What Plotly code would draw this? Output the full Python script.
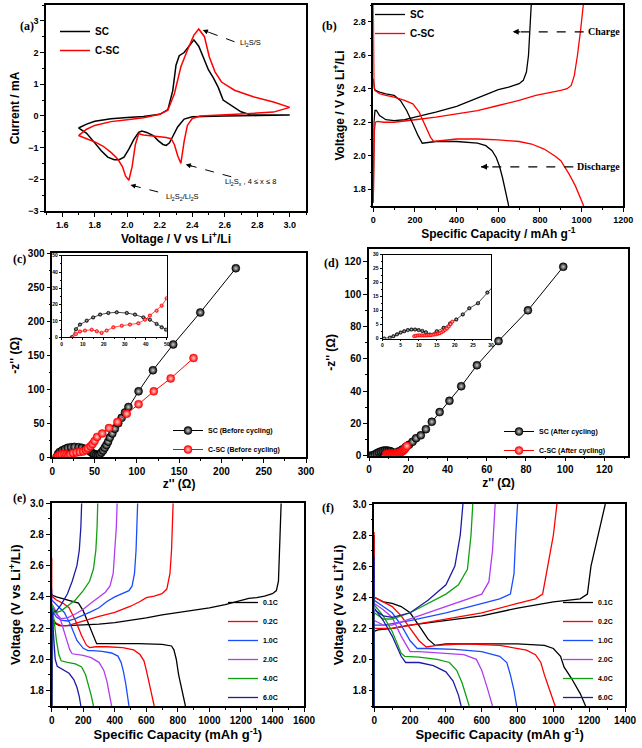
import plotly.graph_objects as go

W, H = 642, 748
SANS = "Liberation Sans"
SERIF = "Liberation Serif"

# ---- (a) cyclic voltammetry ----
cv_sc_v = [1.70, 1.75, 1.80, 1.90, 2.00, 2.10, 2.20, 2.25, 2.28, 2.30, 2.32, 2.35, 2.38, 2.41, 2.44, 2.47,
           2.50, 2.53, 2.56, 2.59, 2.64, 2.70, 2.76, 2.90, 3.00,
           3.00, 2.80, 2.60, 2.50, 2.40, 2.35, 2.31, 2.28, 2.26, 2.24, 2.22, 2.19, 2.16, 2.12, 2.09, 2.07,
           2.04, 2.01, 1.98, 1.95, 1.92, 1.88, 1.84, 1.80, 1.75, 1.70]
cv_sc_i = [-0.38, -0.26, -0.17, -0.09, -0.05, -0.02, 0.05, 0.2, 0.8, 1.6, 1.9, 2.0, 2.2, 2.4, 2.2, 1.8,
           1.45, 1.2, 0.9, 0.5, 0.34, 0.13, 0.03, 0.03, 0.03,
           0.02, 0.01, 0.0, -0.01, -0.03, -0.1, -0.35, -0.65, -0.85, -0.93, -0.9, -0.78, -0.62, -0.52, -0.48, -0.52,
           -0.75, -1.05, -1.3, -1.38, -1.38, -1.3, -1.1, -0.85, -0.55, -0.38]
cv_csc_v = [1.70, 1.75, 1.80, 1.90, 2.00, 2.10, 2.20, 2.25, 2.29, 2.33, 2.37, 2.41, 2.44, 2.475, 2.505, 2.54,
            2.58, 2.66, 2.78, 2.90, 3.00,
            3.00, 2.90, 2.80, 2.70, 2.60, 2.50, 2.45, 2.40, 2.37, 2.35, 2.33, 2.31, 2.29, 2.27, 2.24, 2.20,
            2.15, 2.10, 2.07, 2.05, 2.03, 2.01, 1.99, 1.97, 1.94, 1.90, 1.85, 1.80, 1.75, 1.70]
cv_csc_i = [-0.62, -0.42, -0.30, -0.18, -0.12, -0.06, 0.05, 0.18, 0.70, 1.55, 2.07, 2.55, 2.74, 2.5, 1.86, 1.39,
            1.07, 0.81, 0.6, 0.44, 0.27,
            0.27, 0.12, 0.09, 0.07, 0.05, 0.02, 0.0, -0.08, -0.3, -0.8, -1.5, -1.25, -0.9, -0.72, -0.68, -0.66,
            -0.64, -0.6, -0.56, -0.9, -1.6, -2.03, -1.9, -1.6, -1.35, -1.15, -0.95, -0.82, -0.72, -0.62]

# ---- (b) first charge / discharge ----
b_sc_dis_cap = [0, 2, 5, 10, 30, 60, 100, 130, 160, 190, 215, 235, 260, 300, 400, 500, 540, 570, 590, 605, 620, 635, 650]
b_sc_dis_v = [2.46, 2.43, 2.40, 2.39, 2.38, 2.37, 2.36, 2.33, 2.27, 2.19, 2.12, 2.075, 2.08, 2.085, 2.085, 2.075,
              2.06, 2.03, 1.99, 1.94, 1.87, 1.79, 1.70]
b_sc_ch_cap = [0, 3, 8, 15, 30, 60, 100, 150, 200, 300, 400, 500, 550, 600, 650, 700, 720, 735, 745, 752, 758]
b_sc_ch_v = [1.72, 2.2, 2.27, 2.27, 2.24, 2.215, 2.21, 2.215, 2.23, 2.26, 2.295, 2.345, 2.37, 2.395, 2.41, 2.43,
             2.45, 2.5, 2.6, 2.75, 2.9]
b_csc_dis_cap = [0, 0, 3, 8, 30, 60, 100, 150, 190, 220, 250, 275, 290, 320, 400, 500, 600, 700, 760, 820, 870,
                 900, 920, 940, 970, 1010]
b_csc_dis_v = [2.9, 2.6, 2.42, 2.39, 2.37, 2.36, 2.35, 2.33, 2.31, 2.26, 2.18, 2.11, 2.085, 2.09, 2.1, 2.1, 2.095,
               2.085, 2.07, 2.04, 2.0, 1.97, 1.93, 1.89, 1.82, 1.70]
b_csc_ch_cap = [0, 5, 10, 20, 50, 100, 200, 300, 400, 500, 600, 700, 780, 850, 900, 930, 950, 965, 980, 995, 1008]
b_csc_ch_v = [1.72, 2.15, 2.2, 2.205, 2.2, 2.2, 2.215, 2.23, 2.25, 2.27, 2.3, 2.33, 2.36, 2.375, 2.39, 2.40, 2.42,
              2.48, 2.6, 2.75, 2.9]

# ---- (c) EIS before cycling ----
c_sc_re = [4.8, 6.8, 8.7, 11.9, 15, 18.3, 22.2, 26.2, 31, 34.9, 38.9, 42, 45.2, 47.6, 49.7, 52, 54, 56, 58, 60,
           62, 64, 66, 68, 71, 74, 78, 82, 86, 90, 102, 119, 143, 175, 217]
c_sc_im = [0, 5, 7.8, 10.2, 12.2, 13.9, 14.9, 15.3, 14.9, 13.9, 12.2, 10.8, 8.2, 6.1, 4.7, 3.8, 3.5, 4.5, 7, 10,
           14, 18, 23, 29, 35, 42, 50, 58, 66, 74, 97, 128, 166, 213, 278]
c_csc_re = [5.2, 6.8, 8.7, 11.1, 14.3, 16.7, 19, 21.4, 24.6, 28.6, 32.5, 36.5, 39.7, 42, 45.2, 47.6, 50, 53, 59,
            67, 77, 88, 102, 120, 140, 167]
c_csc_im = [0, 2, 3.5, 4.1, 4.7, 3.7, 2.7, 4.1, 6.1, 7.1, 7.8, 8.6, 10.8, 13.3, 16.3, 19.4, 23.9, 30, 35, 43,
            52, 64, 78, 97, 116, 146]

# ---- (d) EIS after cycling ----
d_sc_re = [0.5, 2, 3, 4, 5, 6, 7, 8, 9, 10, 11, 12, 13.1, 15, 16.9, 18.7, 20.4, 22.2, 24, 26.4, 29, 32, 36, 41,
           47, 55, 66, 81, 99]
d_sc_im = [0, 0.3, 0.8, 1.5, 2.1, 2.6, 3, 3.2, 3.2, 3, 2.7, 2.2, 1.4, 2.6, 3.8, 5.4, 6.8, 8.6, 10.8, 12.6, 16.4,
           21, 27, 34, 43, 56, 71, 90, 117]
d_csc_re = [8.8, 9.3, 9.8, 10.3, 10.8, 11.3, 11.8, 12.3, 12.8, 13.3, 13.8, 14.3, 14.8, 15.3, 15.8, 16.3, 16.8,
            17.3, 17.8, 18.3, 18.8, 19.3]
d_csc_im = [0.8, 1.0, 1.1, 1.1, 1.1, 1.1, 1.1, 1.1, 1.2, 1.2, 1.3, 1.4, 1.5, 1.7, 1.9, 2.2, 2.6, 3.1, 3.6, 4.3,
            5.1, 6.0]

# ---- (e) rate capability, SC ----
rates = ["0.1C", "0.2C", "1.0C", "2.0C", "4.0C", "6.0C"]
rate_colors = ["#000000", "#ff0000", "#1a4cff", "#b23cf0", "#10a010", "#1c1ca8"]

e_dis_cap = [
    [0, 5, 30, 80, 130, 170, 200, 230, 260, 285, 310, 400, 550, 700, 760, 775, 790, 805, 820, 835, 848],
    [0, 0, 5, 30, 70, 110, 150, 190, 220, 240, 280, 350, 450, 520, 560, 585, 600, 615, 630, 650],
    [0, 0, 10, 40, 80, 120, 160, 200, 230, 260, 320, 380, 420, 440, 455, 470, 480, 490],
    [0, 0, 10, 30, 60, 90, 115, 130, 160, 200, 250, 300, 330, 350, 365, 380],
    [0, 5, 15, 30, 45, 60, 75, 100, 150, 190, 215, 235, 250, 265],
    [0, 5, 12, 22, 35, 50, 80, 110, 140, 160, 175, 185],
]
e_dis_v = [
    [2.42, 2.41, 2.40, 2.385, 2.37, 2.36, 2.31, 2.24, 2.16, 2.1, 2.1, 2.1, 2.1, 2.095, 2.085, 2.06, 2.0, 1.9,
     1.83, 1.77, 1.7],
    [2.65, 2.42, 2.4, 2.38, 2.36, 2.33, 2.25, 2.15, 2.09, 2.075, 2.08, 2.08, 2.075, 2.06, 2.03, 1.99, 1.93, 1.86,
     1.79, 1.7],
    [2.45, 2.38, 2.37, 2.34, 2.3, 2.22, 2.12, 2.07, 2.055, 2.055, 2.05, 2.04, 2.02, 1.98, 1.92, 1.84, 1.77, 1.7],
    [2.4, 2.35, 2.34, 2.3, 2.24, 2.14, 2.06, 2.035, 2.03, 2.025, 2.01, 1.98, 1.93, 1.86, 1.78, 1.7],
    [2.36, 2.33, 2.25, 2.12, 2.03, 1.99, 1.985, 1.98, 1.97, 1.95, 1.9, 1.83, 1.77, 1.7],
    [2.33, 2.25, 2.12, 2.0, 1.955, 1.945, 1.93, 1.91, 1.87, 1.82, 1.76, 1.7],
]
e_ch_cap = [
    [0, 3, 8, 20, 50, 100, 200, 300, 400, 500, 600, 700, 800, 900, 1000, 1100, 1200, 1250, 1300, 1350, 1400,
     1425, 1438, 1445, 1450, 1455],
    [0, 3, 10, 30, 60, 100, 150, 200, 300, 400, 500, 560, 600, 650, 700, 730, 750, 760, 765, 770],
    [0, 3, 10, 30, 60, 100, 150, 200, 250, 300, 350, 400, 450, 490, 510, 525, 535, 540, 545],
    [0, 3, 10, 30, 60, 100, 150, 200, 250, 300, 340, 370, 390, 400, 410, 415],
    [0, 3, 10, 30, 60, 100, 150, 200, 240, 265, 280, 288, 292],
    [0, 3, 10, 30, 60, 100, 130, 160, 175, 185, 190],
]
e_ch_v = [
    [1.7, 2.2, 2.26, 2.23, 2.215, 2.215, 2.22, 2.225, 2.235, 2.25, 2.265, 2.285, 2.3, 2.315, 2.33, 2.35, 2.375,
     2.39, 2.395, 2.405, 2.42, 2.44, 2.5, 2.7, 2.85, 3.0],
    [1.7, 2.2, 2.25, 2.23, 2.215, 2.215, 2.23, 2.245, 2.275, 2.3, 2.34, 2.37, 2.395, 2.405, 2.42, 2.45, 2.55,
     2.7, 2.85, 3.0],
    [1.7, 2.25, 2.3, 2.27, 2.25, 2.245, 2.26, 2.28, 2.305, 2.33, 2.37, 2.4, 2.42, 2.44, 2.47, 2.55, 2.7, 2.85, 3.0],
    [1.7, 2.3, 2.33, 2.29, 2.26, 2.265, 2.29, 2.32, 2.36, 2.4, 2.43, 2.47, 2.55, 2.7, 2.85, 3.0],
    [1.7, 2.3, 2.32, 2.3, 2.31, 2.34, 2.38, 2.44, 2.5, 2.58, 2.7, 2.85, 3.0],
    [1.7, 2.28, 2.3, 2.31, 2.35, 2.42, 2.5, 2.6, 2.7, 2.85, 3.0],
]

# ---- (f) rate capability, C-SC ----
f_dis_cap = [
    [0, 0, 50, 100, 150, 200, 260, 300, 340, 400, 600, 800, 950, 1000, 1040, 1060, 1100, 1150, 1180],
    [0, 0, 50, 100, 150, 200, 250, 290, 350, 500, 700, 850, 900, 930, 950, 980, 1010],
    [0, 0, 50, 100, 150, 200, 240, 300, 450, 600, 700, 740, 760, 780, 795],
    [0, 0, 50, 100, 150, 200, 250, 400, 500, 570, 600, 630, 660],
    [0, 0, 50, 100, 150, 170, 250, 350, 420, 460, 490, 510, 530],
    [0, 0, 50, 100, 150, 175, 250, 330, 400, 440, 470, 485],
]
f_dis_v = [
    [2.8, 2.4, 2.37, 2.36, 2.34, 2.3, 2.2, 2.13, 2.09, 2.1, 2.1, 2.1, 2.09, 2.07, 2.02, 1.95, 1.88, 1.78, 1.7],
    [2.82, 2.4, 2.37, 2.34, 2.28, 2.2, 2.12, 2.08, 2.09, 2.1, 2.09, 2.06, 2.03, 1.98, 1.9, 1.8, 1.7],
    [2.65, 2.38, 2.34, 2.3, 2.22, 2.12, 2.07, 2.07, 2.065, 2.05, 2.02, 1.98, 1.9, 1.8, 1.7],
    [2.5, 2.36, 2.32, 2.27, 2.15, 2.05, 2.05, 2.04, 2.03, 2.0, 1.93, 1.82, 1.7],
    [2.45, 2.35, 2.28, 2.18, 2.04, 2.02, 2.015, 2.0, 1.98, 1.93, 1.85, 1.78, 1.7],
    [2.66, 2.33, 2.25, 2.15, 2.02, 1.98, 1.98, 1.96, 1.92, 1.86, 1.77, 1.7],
]
f_ch_cap = [
    [0, 0, 20, 100, 200, 400, 600, 800, 1000, 1150, 1190, 1210, 1250, 1290],
    [0, 0, 100, 200, 400, 600, 800, 900, 940, 970, 1000, 1020],
    [0, 0, 50, 200, 400, 600, 700, 760, 780, 790, 800],
    [0, 0, 50, 100, 200, 300, 400, 500, 600, 640, 660, 675],
    [0, 0, 50, 100, 200, 300, 400, 470, 520, 540, 550],
    [0, 0, 50, 100, 200, 300, 350, 400, 450, 480, 495],
]
f_ch_v = [
    [1.7, 2.18, 2.19, 2.2, 2.22, 2.25, 2.28, 2.33, 2.37, 2.39, 2.42, 2.6, 2.8, 3.0],
    [1.7, 2.2, 2.2, 2.22, 2.26, 2.3, 2.36, 2.39, 2.42, 2.6, 2.8, 3.0],
    [1.7, 2.22, 2.22, 2.25, 2.3, 2.36, 2.39, 2.42, 2.55, 2.8, 3.0],
    [1.7, 2.25, 2.22, 2.22, 2.26, 2.3, 2.34, 2.38, 2.42, 2.5, 2.7, 3.0],
    [1.7, 2.3, 2.26, 2.26, 2.3, 2.36, 2.42, 2.48, 2.58, 2.8, 3.0],
    [1.7, 2.32, 2.28, 2.27, 2.3, 2.38, 2.43, 2.48, 2.6, 2.8, 3.0],
]


def dom(x0, x1, y0, y1):
    return [x0 / W, x1 / W], [1 - y1 / H, 1 - y0 / H]


def axis(domain, rng, dtick, minor, title, anchor, tick0=0, size=9, tsize=12, standoff=3, lw=1.5, ticklen=4,
         fmt=None):
    ax = dict(domain=domain, range=rng, dtick=dtick, tick0=tick0, anchor=anchor,
              showline=True, linecolor="black", linewidth=lw, mirror=True,
              ticks="outside", ticklen=ticklen, tickwidth=1.2, tickcolor="black",
              minor=dict(dtick=minor, tick0=tick0, ticks="outside", ticklen=ticklen / 2, tickwidth=1,
                         tickcolor="black"),
              showgrid=False, zeroline=False, automargin=False,
              tickfont=dict(family=SANS, size=size, color="black", weight="bold"),
              title=dict(text=title, standoff=standoff,
                         font=dict(family=SANS, size=tsize, color="black", weight="bold")))
    if fmt:
        ax["tickformat"] = fmt
    return ax


fig = go.Figure()

# (a)
fig.add_trace(go.Scatter(x=cv_sc_v, y=cv_sc_i, name="SC", mode="lines", line=dict(color="black", width=1.5),
                         xaxis="x", yaxis="y", legend="legend"))
fig.add_trace(go.Scatter(x=cv_csc_v, y=cv_csc_i, name="C-SC", mode="lines", line=dict(color="red", width=1.5),
                         xaxis="x", yaxis="y", legend="legend"))

# (b)
fig.add_trace(go.Scatter(x=b_sc_ch_cap, y=b_sc_ch_v, name="SC", mode="lines", line=dict(color="black", width=1.3),
                         xaxis="x2", yaxis="y2", legend="legend2"))
fig.add_trace(go.Scatter(x=b_csc_ch_cap, y=b_csc_ch_v, name="C-SC", mode="lines", line=dict(color="red", width=1.3),
                         xaxis="x2", yaxis="y2", legend="legend2"))
fig.add_trace(go.Scatter(x=b_sc_dis_cap, y=b_sc_dis_v, mode="lines", line=dict(color="black", width=1.3),
                         xaxis="x2", yaxis="y2", showlegend=False))
fig.add_trace(go.Scatter(x=b_csc_dis_cap, y=b_csc_dis_v, mode="lines", line=dict(color="red", width=1.3),
                         xaxis="x2", yaxis="y2", showlegend=False))


def ball(color, glow, size):
    return dict(color=color, size=size, gradient=dict(type="radial", color=glow),
                line=dict(color=color, width=0.5))


# (c) main + inset
fig.add_trace(go.Scatter(x=c_sc_re, y=c_sc_im, name="SC (Before cycling)", mode="lines+markers",
                         line=dict(color="black", width=1), marker=ball("black", "#d0d0d0", 8),
                         xaxis="x3", yaxis="y3", legend="legend3"))
fig.add_trace(go.Scatter(x=c_csc_re, y=c_csc_im, name="C-SC (Before cycling)", mode="lines+markers",
                         line=dict(color="red", width=1), marker=ball("red", "#ffd0d0", 8),
                         xaxis="x3", yaxis="y3", legend="legend3"))
fig.add_trace(go.Scatter(x=c_sc_re, y=c_sc_im, mode="lines+markers", line=dict(color="black", width=0.7),
                         marker=ball("black", "#c0c0c0", 3.5), xaxis="x7", yaxis="y7", showlegend=False))
fig.add_trace(go.Scatter(x=c_csc_re, y=c_csc_im, mode="lines+markers", line=dict(color="red", width=0.7),
                         marker=ball("red", "#ffc0c0", 3.5), xaxis="x7", yaxis="y7", showlegend=False))

# (d) main + inset
fig.add_trace(go.Scatter(x=d_sc_re, y=d_sc_im, name="SC (After cycling)", mode="lines+markers",
                         line=dict(color="black", width=1), marker=ball("black", "#d0d0d0", 8),
                         xaxis="x4", yaxis="y4", legend="legend4"))
fig.add_trace(go.Scatter(x=d_csc_re, y=d_csc_im, name="C-SC (After cycling)", mode="lines+markers",
                         line=dict(color="red", width=1), marker=ball("red", "#ffd0d0", 8),
                         xaxis="x4", yaxis="y4", legend="legend4"))
fig.add_trace(go.Scatter(x=d_sc_re, y=d_sc_im, mode="lines+markers", line=dict(color="black", width=0.7),
                         marker=ball("black", "#c0c0c0", 3.5), xaxis="x8", yaxis="y8", showlegend=False))
fig.add_trace(go.Scatter(x=d_csc_re, y=d_csc_im, mode="lines+markers", line=dict(color="red", width=0.7),
                         marker=ball("red", "#ffc0c0", 3.5), xaxis="x8", yaxis="y8", showlegend=False))

# (e) and (f)
for k, (r, col) in enumerate(zip(rates, rate_colors)):
    fig.add_trace(go.Scatter(x=e_dis_cap[k], y=e_dis_v[k], name=r, mode="lines", line=dict(color=col, width=1.3),
                             xaxis="x5", yaxis="y5", legend="legend5"))
    fig.add_trace(go.Scatter(x=e_ch_cap[k], y=e_ch_v[k], mode="lines", line=dict(color=col, width=1.3),
                             xaxis="x5", yaxis="y5", showlegend=False))
    fig.add_trace(go.Scatter(x=f_dis_cap[k], y=f_dis_v[k], name=r, mode="lines", line=dict(color=col, width=1.3),
                             xaxis="x6", yaxis="y6", legend="legend6"))
    fig.add_trace(go.Scatter(x=f_ch_cap[k], y=f_ch_v[k], mode="lines", line=dict(color=col, width=1.3),
                             xaxis="x6", yaxis="y6", showlegend=False))

va, ha = dom(46, 306, 5, 211)
vb, hb = dom(373.3, 623.3, 5, 206)
vc, hc = dom(52.3, 306, 253.3, 457.3)
vd, hd = dom(369, 628, 249, 455.7)
ve, he = dom(51.7, 304, 503.3, 706)
vf, hf = dom(374.3, 625, 504, 706)
vci, hci = dom(61.7, 166.7, 255.7, 337.3)
vdi, hdi = dom(382.5, 491, 254.5, 338.5)

volt_li = "Voltage / V vs Li<sup>+</sup>/Li"
cap_t = "Specific Capacity / mAh g<sup>-1</sup>"
cap_e = "Specific Capacity (mAh g<sup>-1</sup>)"
volt_e = "Voltage (V vs Li<sup>+</sup>/Li)"

layout = dict(
    width=W, height=H, margin=dict(l=0, r=0, t=0, b=0),
    paper_bgcolor="white", plot_bgcolor="white",
    xaxis=axis(va, [1.5, 3.1], 0.2, 0.1, volt_li, "y", tick0=1.6, size=9, tsize=12, standoff=4, fmt=".1f"),
    yaxis=axis(ha, [-3, 3.5], 1, 0.5, "Current / mA", "x", tick0=-3, size=9, tsize=12, standoff=6),
    xaxis2=axis(vb, [0, 1200], 200, 100, cap_t, "y2", size=9, tsize=12, standoff=4),
    yaxis2=axis(hb, [1.7, 2.9], 0.2, 0.1, volt_li, "x2", tick0=1.8, size=9, tsize=12, standoff=6, fmt=".1f"),
    xaxis3=axis(vc, [0, 300], 50, 25, "z'' (Ω)", "y3", size=10, tsize=12, standoff=4),
    yaxis3=axis(hc, [0, 300], 50, 25, "-z'' (Ω)", "x3", size=10, tsize=12, standoff=6),
    xaxis4=axis(vd, [0, 132], 20, 10, "z'' (Ω)", "y4", size=10, tsize=12, standoff=4),
    yaxis4=axis(hd, [0, 128], 20, 10, "-z'' (Ω)", "x4", size=10, tsize=12, standoff=6),
    xaxis5=axis(ve, [0, 1600], 200, 100, cap_e, "y5", size=10, tsize=13, standoff=4),
    yaxis5=axis(he, [1.7, 3.0], 0.2, 0.1, volt_e, "x5", tick0=1.8, size=10, tsize=13, standoff=6, fmt=".1f"),
    xaxis6=axis(vf, [0, 1400], 200, 100, cap_e, "y6", size=10, tsize=13, standoff=4),
    yaxis6=axis(hf, [1.7, 3.0], 0.2, 0.1, volt_e, "x6", tick0=1.8, size=10, tsize=13, standoff=6, fmt=".1f"),
    xaxis7=axis(vci, [0, 50], 10, 5, "", "y7", size=5, lw=0.8, ticklen=2),
    yaxis7=axis(hci, [0, 50], 10, 5, "", "x7", size=5, lw=0.8, ticklen=2),
    xaxis8=axis(vdi, [0, 30], 5, 2.5, "", "y8", size=5, lw=0.8, ticklen=2),
    yaxis8=axis(hdi, [0, 30], 5, 2.5, "", "x8", size=5, lw=0.8, ticklen=2),
)


def leg(xpx, ypx, size):
    return dict(x=xpx / W, y=1 - ypx / H, xanchor="left", yanchor="top", bgcolor="rgba(0,0,0,0)",
                tracegroupgap=0, font=dict(family=SANS, size=size, color="black", weight="bold"))


layout["legend"] = leg(55, 17, 10)
layout["legend2"] = leg(370, 0, 10)
layout["legend3"] = leg(168, 416, 7)
layout["legend4"] = leg(499, 417, 7)
layout["legend5"] = leg(223, 588, 7)
layout["legend6"] = leg(558, 588, 7)
fig.update_layout(**layout)

# panel letters
for txt, xp, yp in [("(a)", 18, 17), ("(b)", 330, 17), ("(c)", 11, 259), ("(d)", 331, 263),
                    ("(e)", 11, 507), ("(f)", 328, 517)]:
    fig.add_annotation(text=txt, x=xp / W, y=1 - yp / H, xref="paper", yref="paper", showarrow=False,
                       font=dict(family=SERIF, size=12, color="black", weight="bold"))

# (a) peak labels with dashed arrows
peak_notes = [
    ("Li<sub>2</sub>S/S", 2.68, 2.30, (2.465, 2.71), (2.66, 2.34), 7.5, 2.8),
    ("Li<sub>2</sub>S<sub>x</sub> , 4 ≤ x ≤ 8", 2.59, -2.08, (2.36, -1.53), (2.64, -1.92), 7.7, 2.1),
    ("Li<sub>2</sub>S<sub>2</sub>/Li<sub>2</sub>S", 2.227, -2.56, (2.02, -2.18), (2.19, -2.40), 7.8, 1.9),
]
for txt, tx, ty, head, tail, axp, ayp in peak_notes:
    fig.add_annotation(text=txt, x=tx, y=ty, xref="x", yref="y", xanchor="left", showarrow=False,
                       font=dict(family=SANS, size=7.5, color="black"))
    fig.add_shape(type="line", x0=tail[0], y0=tail[1], x1=head[0], y1=head[1], xref="x", yref="y",
                  line=dict(color="black", width=1, dash="dash"))
    fig.add_annotation(text="", x=head[0], y=head[1], xref="x", yref="y", ax=axp, ay=ayp, showarrow=True,
                       arrowhead=2, arrowsize=1, arrowwidth=1, arrowcolor="black")

# (b) charge / discharge arrows
for txt, tx, ty, head_x, tail_x in [("Charge", 1020, 2.74, 669, 1010), ("Discharge", 968, 1.934, 517, 960)]:
    fig.add_annotation(text=txt, x=tx, y=ty, xref="x2", yref="y2", xanchor="left", showarrow=False,
                       font=dict(family=SERIF, size=10, color="black", weight="bold"))
    fig.add_shape(type="line", x0=tail_x, y0=ty, x1=head_x, y1=ty, xref="x2", yref="y2",
                  line=dict(color="black", width=1.2, dash="dash"))
    fig.add_annotation(text="", x=head_x, y=ty, xref="x2", yref="y2", ax=9, ay=0, showarrow=True,
                       arrowhead=2, arrowsize=1, arrowwidth=1.2, arrowcolor="black")

# the page body has a default 8px margin; drop it so the figure sits at the window origin
fig.write_html("out.html", config={"displayModeBar": False},
               post_script="document.body.style.margin='0px';")
